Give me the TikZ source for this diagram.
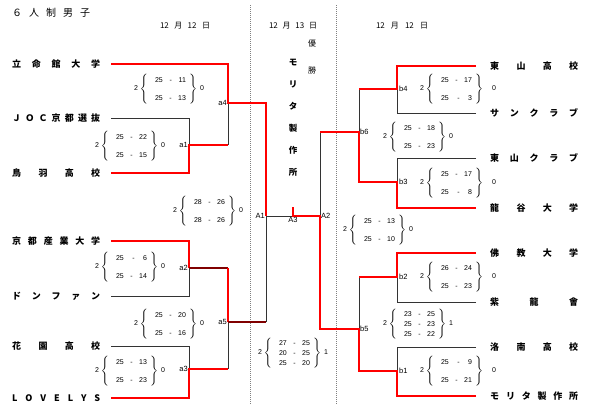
\documentclass[tikz,border=0pt]{standalone}
\usepackage{fontspec}
\setmainfont{Liberation Sans}
\newfontfamily\jpfont{Noto Sans CJK JP}
\usepackage{tikz}
\usetikzlibrary{positioning}
\definecolor{WinRed}{HTML}{FF0000}
\definecolor{DeepRed}{HTML}{800000}
\definecolor{LoseGray}{HTML}{333333}
\newcommand{\sset}[2]{\makebox[31pt]{#1\hfill-\hfill#2}}
\newcommand{\scorebox}[4][3pt]{#2\hspace{2pt}$\left\{\begin{tabular}{@{\hspace{7pt}}c@{\hspace{3pt}}}#3\end{tabular}\right\}$\hspace{#1}#4}

\begin{document}
\begin{tikzpicture}[x=1pt, y=-1pt,
    win/.style={draw=WinRed, line width=1.8pt},
    deepwin/.style={draw=DeepRed, line width=1.8pt},
    lose/.style={draw=LoseGray, line width=0.8pt},
    team/.style={inner sep=0pt, font=\jpfont\bfseries\fontsize{9}{9}\selectfont},
    score/.style={inner sep=0pt, font=\fontsize{7}{10}\selectfont},
    mlabel/.style={inner sep=1pt, font=\fontsize{7.5}{8}\selectfont},
    datelab/.style={inner sep=0pt, font=\jpfont\fontsize{8}{8}\selectfont},
    champ/.style={inner sep=0pt, font=\jpfont\bfseries\fontsize{8.5}{9}\selectfont}]
  \useasboundingbox (0,0) rectangle (593,413);

  % headings
  \node[datelab, anchor=west, font=\jpfont\fontsize{10}{10}\selectfont] (title) at (12,13) {\makebox[78pt]{６\hfill 人\hfill 制\hfill 男\hfill 子}};
  \node[datelab] (dayL) at (185,26) {\makebox[50pt]{12\hfill 月\hfill 12\hfill 日}};
  \node[datelab] (dayC) at (293,26) {\makebox[48pt]{12\hfill 月\hfill 13\hfill 日}};
  \node[datelab] (dayR) at (402,26) {\makebox[52pt]{12\hfill 月\hfill 12\hfill 日}};
  \node[datelab] (yu) at (312,43) {優};
  \node[datelab] (sho) at (312,70) {勝};
  \foreach \ch [count=\i] in {モ,リ,タ,製,作,所}
    \node[champ] (champ\i) at (293,{63+21.8*(\i-1)}) {\ch};

  % day separators
  \draw[gray, line width=0.6pt, dash pattern=on 1pt off 1pt] (250,5) -- (250,405);
  \draw[gray, line width=0.6pt, dash pattern=on 1pt off 1pt] (336,5) -- (336,405);

  % left teams
  \node[team, anchor=west] (ritsu) at (12,64) {\makebox[88pt]{立\hfill 命\hfill 館\hfill 大\hfill 学}};
  \node[team, anchor=west] (joc) at (12,118) {\makebox[88pt]{Ｊ\hfill Ｏ\hfill Ｃ\hfill 京\hfill 都\hfill 選\hfill 抜}};
  \node[team, anchor=west] (toba) at (12,173) {\makebox[88pt]{鳥\hfill 羽\hfill 高\hfill 校}};
  \node[team, anchor=west] (kyosan) at (12,241) {\makebox[88pt]{京\hfill 都\hfill 産\hfill 業\hfill 大\hfill 学}};
  \node[team, anchor=west] (donfan) at (12,296) {\makebox[88pt]{ド\hfill ン\hfill フ\hfill ァ\hfill ン}};
  \node[team, anchor=west] (hanazono) at (12,346) {\makebox[88pt]{花\hfill 園\hfill 高\hfill 校}};
  \node[team, anchor=west] (lovelys) at (12,398) {\makebox[88pt]{L\hfill O\hfill V\hfill E\hfill L\hfill Y\hfill S}};

  % right teams
  \node[team, anchor=west] (higashi) at (490,66) {\makebox[88pt]{東\hfill 山\hfill 高\hfill 校}};
  \node[team, anchor=west] (sun) at (490,113) {\makebox[88pt]{サ\hfill ン\hfill ク\hfill ラ\hfill ブ}};
  \node[team, anchor=west] (hclub) at (490,158) {\makebox[88pt]{東\hfill 山\hfill ク\hfill ラ\hfill ブ}};
  \node[team, anchor=west] (ryukoku) at (490,208) {\makebox[88pt]{龍\hfill 谷\hfill 大\hfill 学}};
  \node[team, anchor=west] (bukkyo) at (490,253) {\makebox[88pt]{佛\hfill 教\hfill 大\hfill 学}};
  \node[team, anchor=west] (shiryu) at (490,302) {\makebox[88pt]{紫\hfill 龍\hfill 會}};
  \node[team, anchor=west] (rakunan) at (490,347) {\makebox[88pt]{洛\hfill 南\hfill 高\hfill 校}};
  \node[team, anchor=west] (morita) at (490,396) {\makebox[88pt]{モ\hfill リ\hfill タ\hfill 製\hfill 作\hfill 所}};

  % match points
  \coordinate (a1) at (189,145);
  \coordinate (a2) at (189,268);
  \coordinate (a3) at (189,369);
  \coordinate (a4) at (228,103);
  \coordinate (a5) at (228,322);
  \coordinate (A1) at (266,216);
  \coordinate (A3) at (293,216);
  \coordinate (A3top) at (293,207);
  \coordinate (A2) at (320,216);
  \coordinate (b6) at (359,132);
  \coordinate (b5) at (359,329);
  \coordinate (b4) at (397,89);
  \coordinate (b3) at (397,182);
  \coordinate (b2) at (397,277);
  \coordinate (b1) at (397,371);

  % losing lines
  \draw[lose] ([xshift=11pt]joc.east) -| (a1);
  \draw[lose] ([xshift=11pt]donfan.east) -| (a2);
  \draw[lose] ([xshift=11pt]hanazono.east) -| (a3);
  \draw[lose] (a1 -| a4) -- (a4);
  \draw[lose] (a3 -| a5) -- (a5);
  \draw[lose] (a5 -| A1) -- (A1) -- (A3);
  \draw[lose] ([xshift=-14pt]sun.west) -| (b4);
  \draw[lose] ([xshift=-14pt]hclub.west) -| (b3);
  \draw[lose] ([xshift=-14pt]shiryu.west) -| (b2);
  \draw[lose] ([xshift=-14pt]rakunan.west) -| (b1);
  \draw[lose] (b4 -| b6) -- (b6);
  \draw[lose] (b2 -| b5) -- (b5);
  \draw[lose] (b6 -| A2) -- (A2);

  % winning lines
  \draw[win] ([xshift=11pt]ritsu.east) -| (a4) -| (A1);
  \draw[win] ([xshift=11pt]toba.east) -| (a1) -- (a1 -| a4);
  \draw[win] ([xshift=11pt]kyosan.east) -| (a2);
  \draw[deepwin] (a2) -- (a2 -| a5);
  \draw[win] (a2 -| a5) -- (a5);
  \draw[win] ([xshift=11pt]lovelys.east) -| (a3) -- (a3 -| a5);
  \draw[deepwin] (a5) -- (a5 -| A1);
  \draw[win] ([xshift=-14pt]higashi.west) -| (b4) -- (b4 -| b6);
  \draw[win] ([xshift=-14pt]ryukoku.west) -| (b3) -| (b6) -- (b6 -| A2);
  \draw[win] ([xshift=-14pt]bukkyo.west) -| (b2) -- (b2 -| b5);
  \draw[win] ([xshift=-14pt]morita.west) -| (b1) -| (b5) -| (A2) -- (A3) -- (A3top);

  % match labels
  \node[mlabel, anchor=east] (la1) at (a1) {a1};
  \node[mlabel, anchor=east] (la2) at (a2) {a2};
  \node[mlabel, anchor=east] (la3) at (a3) {a3};
  \node[mlabel, anchor=east] (la4) at (a4) {a4};
  \node[mlabel, anchor=east] (la5) at (a5) {a5};
  \node[mlabel, anchor=east] (lA1) at (A1) {A1};
  \node[mlabel, anchor=north] (lA3) at (A3) {A3};
  \node[mlabel, anchor=west] (lA2) at (A2) {A2};
  \node[mlabel, anchor=west] (lb6) at (b6) {b6};
  \node[mlabel, anchor=west] (lb5) at (b5) {b5};
  \node[mlabel, anchor=west, xshift=1pt] (lb4) at (b4) {b4};
  \node[mlabel, anchor=west, xshift=1pt] (lb3) at (b3) {b3};
  \node[mlabel, anchor=west, xshift=1pt] (lb2) at (b2) {b2};
  \node[mlabel, anchor=west, xshift=1pt] (lb1) at (b1) {b1};

  % set scores
  \node[score] (sa4) at (169,89) {\scorebox{2}{\sset{25}{11}\\[8pt]\sset{25}{13}}{0}};
  \node[score] (sa1) at (130,146) {\scorebox{2}{\sset{25}{22}\\[8pt]\sset{25}{15}}{0}};
  \node[score] (sA1) at (208,211) {\scorebox{2}{\sset{28}{26}\\[8pt]\sset{28}{26}}{0}};
  \node[score] (sa2) at (130,267) {\scorebox{2}{\sset{25}{6}\\[8pt]\sset{25}{14}}{0}};
  \node[score] (sa5) at (169,324) {\scorebox{2}{\sset{25}{20}\\[8pt]\sset{25}{16}}{0}};
  \node[score] (sa3) at (130,371) {\scorebox{2}{\sset{25}{13}\\[8pt]\sset{25}{23}}{0}};
  \node[score] (sA3) at (293,353) {\scorebox{2}{\sset{27}{25}\\\sset{20}{25}\\\sset{25}{20}}{1}};
  \node[score] (sb4) at (458,89) {\scorebox[9pt]{2}{\sset{25}{17}\\[8pt]\sset{25}{3}}{0}};
  \node[score] (sb6) at (418,137) {\scorebox{2}{\sset{25}{18}\\[8pt]\sset{25}{23}}{0}};
  \node[score] (sb3) at (458,183) {\scorebox[9pt]{2}{\sset{25}{17}\\[8pt]\sset{25}{8}}{0}};
  \node[score] (sA2) at (378,230) {\scorebox{2}{\sset{25}{13}\\[8pt]\sset{25}{10}}{0}};
  \node[score] (sb2) at (458,277) {\scorebox[9pt]{2}{\sset{26}{24}\\[8pt]\sset{25}{23}}{0}};
  \node[score] (sb5) at (418,324) {\scorebox{2}{\sset{23}{25}\\\sset{25}{23}\\\sset{25}{22}}{1}};
  \node[score] (sb1) at (458,371) {\scorebox[9pt]{2}{\sset{25}{9}\\[8pt]\sset{25}{21}}{0}};
\end{tikzpicture}
\end{document}
